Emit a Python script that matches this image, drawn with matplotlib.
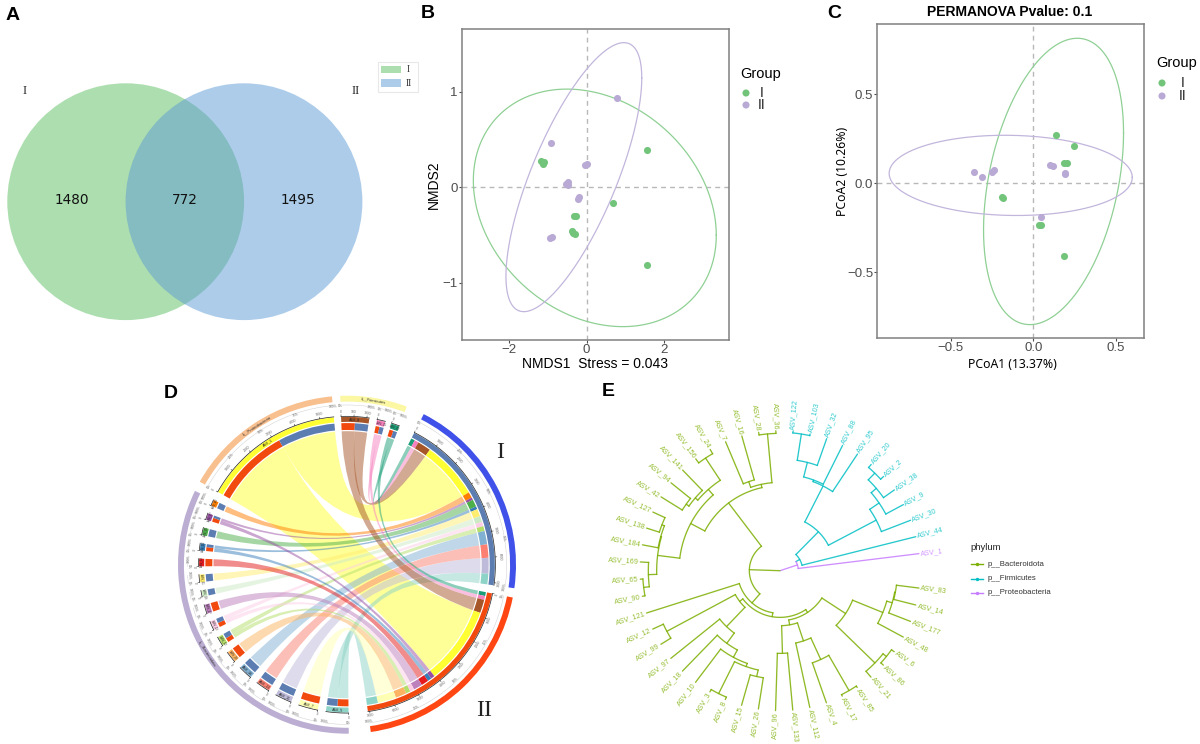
import numpy as np
import matplotlib
matplotlib.use('Agg')
import matplotlib.pyplot as plt
from matplotlib.patches import Circle, Wedge, PathPatch, Rectangle
from matplotlib.path import Path

W, H = 1200, 744

# --- A: venn
venn_counts = [1480, 772, 1495]
venn_groups = ['I', 'II']

# --- B: NMDS
nmds_green_x = [-1.17, -1.10, -1.13, 1.55, 0.67, -0.32, -0.28, -0.38, -0.35, -0.30, 1.55]
nmds_green_y = [0.28, 0.27, 0.25, 0.39, -0.16, -0.30, -0.30, -0.46, -0.48, -0.49, -0.81]
nmds_purple_x = [0.79, -0.92, -0.05, 0.00, -0.52, -0.47, -0.47, -0.20, -0.23, -0.95, -0.90]
nmds_purple_y = [0.94, 0.47, 0.23, 0.24, 0.04, 0.06, 0.03, -0.10, -0.12, -0.53, -0.52]
# cx, cy, rx, ry, rho
nmds_green_ell = [0.21, -0.215, 3.13, 1.245, -0.23]
nmds_purple_ell = [-0.33, 0.107, 1.75, 1.41, 0.737]

# --- C: PCoA
pcoa_green_x = [0.138, 0.247, 0.188, 0.202, -0.188, -0.182, 0.036, 0.047, 0.188]
pcoa_green_y = [0.269, 0.206, 0.112, 0.112, -0.079, -0.081, -0.237, -0.235, -0.407]
pcoa_purple_x = [-0.358, -0.314, -0.251, -0.239, 0.101, 0.117, 0.192, 0.192, 0.045]
pcoa_purple_y = [0.062, 0.034, 0.065, 0.075, 0.101, 0.097, 0.056, 0.049, -0.187]
pcoa_green_ell = [0.123, 0.01, 0.425, 0.803, 0.339]
pcoa_purple_ell = [-0.137, 0.044, 0.738, 0.225, -0.05]

# --- D: chord diagram, clockwise from the top
firm_names = ['ASV_8', 'ASV_25', 'ASV_39']
firm_I = [550, 170, 160]
firm_II = [550, 160, 160]
firm_cols = ['#a65628', '#f781bf', '#1b9e77']
leaf_names = ['ASV_5', 'ASV_7', 'ASV_11', 'ASV_13', 'ASV_16', 'ASV_19', 'ASV_22', 'ASV_23',
              'ASV_27', 'ASV_29', 'ASV_31', 'ASV_33', 'ASV_34', 'ASV_35', 'ASV_37', 'ASV_40']
leaf_I = [430, 0, 650, 550, 550, 0, 200, 180, 0, 250, 300, 0, 120, 300, 100, 240]
leaf_II = [450, 760, 0, 0, 0, 450, 180, 180, 360, 0, 0, 300, 160, 0, 160, 0]
leaf_cols = ['#8dd3c7', '#ffffb3', '#bebada', '#fb8072', '#80b1d3', '#fdb462', '#b3de69', '#fccde5',
             '#bc80bd', '#ccebc5', '#ffed6f', '#e41a1c', '#377eb8', '#4daf4a', '#984ea3', '#ff7f00']
top_name = 'ASV_1'
top_I = 2350
top_II = 3200
top_col = '#ffff33'

# --- E: tree, nodes are (radius, child, child), counter clockwise
cl_proteo = (55, 'ASV_1',
             (68, 'ASV_44',
              (164,
               (326, 'ASV_30', (360, 'ASV_9', (380, 'ASV_38', (408, 'ASV_2', 'ASV_20')))),
               (285, 'ASV_95', (290, 'ASV_88', (335, 'ASV_32', (415, 'ASV_103', 'ASV_122')))))))
cl_top = (255,
          (265, (412, 'ASV_36', 'ASV_28'), (283, 'ASV_16', 'ASV_7')),
          (303,
           (325, (405, 'ASV_24', 'ASV_156'), (335, 'ASV_141', (345, 'ASV_94', 'ASV_42'))),
           (370, (372, (380, 'ASV_127', 'ASV_138'), 'ASV_184'),
            (395, 'ASV_169', (412, 'ASV_65', 'ASV_90')))))
cl_w = (152, (385, 'ASV_12', 'ASV_99'),
        (232, 'ASV_97',
         (270, 'ASV_18',
          (295, 'ASV_10',
           (305, (412, 'ASV_3', 'ASV_8'), (325, 'ASV_15', 'ASV_26'))))))
cl_y = (150,
        (165, (248, 'ASV_96', 'ASV_133'),
         (222, 'ASV_112', (293, 'ASV_4', (415, 'ASV_17', 'ASV_85')))),
        (235, (397, 'ASV_21', (410, 'ASV_86', 'ASV_6')),
         (333, 'ASV_48', (350, 'ASV_177', (352, 'ASV_14', 'ASV_83')))))
cl_bact = (92, cl_top, (128, 'ASV_121', (140, cl_w, cl_y)))
phylum_names = ['p__Bacteroidota', 'p__Firmicutes', 'p__Proteobacteria']
phylum_cols = ['#7CAE00', '#00BFC4', '#C77CFF']

plt.rcParams['font.family'] = ['Liberation Sans', 'DejaVu Sans']
plt.rcParams['axes.unicode_minus'] = True

GREEN = '#72c47a'
PURPLE = '#b9a9d5'
ELL_G = '#8fd094'
ELL_P = '#c2b6dc'


def px_axes(fig, x0, y0, x1, y1, **kw):
    return fig.add_axes([x0 / W, 1 - y1 / H, (x1 - x0) / W, (y1 - y0) / H], **kw)


def ellipse_xy(par):
    cx, cy, rx, ry, rho = par
    t = np.linspace(0, 2 * np.pi, 300)
    return cx + rx * np.cos(t), cy + ry * np.cos(t - np.arccos(rho))


def ordination(ax, gx, gy, px, py, ell_g, ell_p, xticks, yticks, xfmt, yfmt):
    ax.axhline(0, color='#b8b8b8', lw=1, ls=(0, (3.5, 3)), zorder=1)
    ax.axvline(0, color='#b8b8b8', lw=1, ls=(0, (3.5, 3)), zorder=1)
    ax.plot(*ellipse_xy(ell_g), color=ELL_G, lw=0.9, zorder=2)
    ax.plot(*ellipse_xy(ell_p), color=ELL_P, lw=0.9, zorder=2)
    ax.scatter(gx, gy, s=26, color=GREEN, lw=0, zorder=3)
    ax.scatter(px, py, s=26, color=PURPLE, lw=0, zorder=3)
    ax.set_xticks(xticks, [xfmt(v) for v in xticks])
    ax.set_yticks(yticks, [yfmt(v) for v in yticks])
    ax.tick_params(colors='#4d4d4d', labelsize=9.5, length=2, width=0.8, pad=1)
    for s in ax.spines.values():
        s.set_color('#808080')
        s.set_linewidth(1.1)


def group_legend(ov, x, ytitle, y1, y2, xt):
    ov.text(x - 6, ytitle, 'Group', fontsize=10.5, va='center', ha='left')
    ov.scatter([x, x], [y1, y2], s=26, color=[GREEN, PURPLE], lw=0)
    ov.text(xt, y1, 'I', fontsize=10, va='center', ha='center', color='#222222')
    ov.text(xt, y2, 'II', fontsize=10, va='center', ha='center', color='#222222')


# --- chord helpers
def pol(r, deg):
    a = np.radians(deg)
    return r * np.sin(a), r * np.cos(a)


def ring(ax, r0, r1, a0, a1, col, **kw):
    ax.add_patch(Wedge((0, 0), r1, 90 - a1, 90 - a0, width=r1 - r0, facecolor=col, lw=0, **kw))


def tang_rot(deg):
    d = deg % 360
    return 180 - d if 90 < d < 270 else -d


def ribbon(ax, a0, a1, b0, b1, col, r=0.79):
    verts, codes = [], []
    aa = np.linspace(a0, a1, 12)
    bb = np.linspace(b0, b1, 12)
    for i, d in enumerate(aa):
        verts.append(pol(r, d))
        codes.append(Path.MOVETO if i == 0 else Path.LINETO)
    verts += [(0, 0), pol(r, b0)]
    codes += [Path.CURVE3, Path.CURVE3]
    for d in bb[1:]:
        verts.append(pol(r, d))
        codes.append(Path.LINETO)
    verts += [(0, 0), pol(r, a0)]
    codes += [Path.CURVE3, Path.CURVE3]
    ax.add_patch(PathPatch(Path(verts, codes), facecolor=col, alpha=0.5, lw=0))


def sector_axis(ax, a0, a1, total, step, grey='#666666'):
    th = np.linspace(a0, a1, 80)
    ax.plot(*pol(0.878, th), color='#222222', lw=0.5)
    ax.plot(*pol(0.945, th), color='#d0d0d0', lw=0.35)
    for v in np.arange(0, total + 1, step):
        d = a0 + v / 100.0
        p0, p1 = pol(0.878, d), pol(0.888, d)
        ax.plot([p0[0], p1[0]], [p0[1], p1[1]], color='#222222', lw=0.35)
        x, y = pol(0.905, d)
        ax.text(x, y, str(int(v)), fontsize=2.4, color=grey, ha='center', va='center',
                rotation=tang_rot(d), rotation_mode='anchor')
    span = a1 - a0
    pcts = [0, 25, 50, 75, 100] if span > 20 else [0, 100]
    for p in pcts:
        d = a0 + span * p / 100.0
        x, y = pol(0.938, d)
        ax.text(x, y, f'{p}%', fontsize=2.4, color=grey, ha='center', va='center',
                rotation=tang_rot(d), rotation_mode='anchor')


def draw_chord(ax):
    blue, red = '#5b7db1', '#f2490f'
    names = firm_names + ['I', 'II'] + leaf_names + [top_name]
    p_I = list(firm_I) + list(leaf_I) + [top_I]
    p_II = list(firm_II) + list(leaf_II) + [top_II]
    p_cols = list(firm_cols) + list(leaf_cols) + [top_col]
    nf, nl = len(firm_names), len(leaf_names)
    sum_I, sum_II = sum(p_I), sum(p_II)
    part_tot = [a + b for a, b in zip(p_I, p_II)]
    fixed = [3.0, 2.5, 6.3, 3.2, 7.5]
    tail = [3.5, 2.8]
    used = (sum_I + sum_II + sum(part_tot)) / 100.0 + sum(fixed) + sum(tail)
    leaf_gap = (360 - used) / (nl - 1)
    gaps = fixed + [leaf_gap] * (nl - 1) + tail

    start = {}
    pos = -2.3
    totals = part_tot[:nf] + [sum_I, sum_II] + part_tot[nf:]
    for n, t, g in zip(names, totals, gaps):
        start[n] = (pos, pos + t / 100.0)
        pos += t / 100.0 + g

    # partners in the clockwise order used inside sectors I and II
    order = [2, 1, 0, nf + nl] + list(range(nf + nl - 1, nf - 1, -1))
    part_names = firm_names + leaf_names + [top_name]
    cur_I = start['I'][0]
    cur_II = start['II'][0]
    slots = {}
    for i in order:
        slots[i] = (cur_I, cur_I + p_I[i] / 100.0, cur_II, cur_II + p_II[i] / 100.0)
        cur_I += p_I[i] / 100.0
        cur_II += p_II[i] / 100.0

    # chords: big one first, small firmicutes on top
    draw_order = [nf + nl] + list(range(nf, nf + nl)) + list(range(nf))
    for i in draw_order:
        a0 = start[part_names[i]][0]
        mid = a0 + p_II[i] / 100.0
        end = mid + p_I[i] / 100.0
        i0, i1, j0, j1 = slots[i]
        if p_II[i] > 0:
            ribbon(ax, a0, mid, j0, j1, p_cols[i])
        if p_I[i] > 0:
            ribbon(ax, mid, end, i0, i1, p_cols[i])

    # inner stacks and rings
    for i, n in enumerate(part_names):
        a0, a1 = start[n]
        mid = a0 + p_II[i] / 100.0
        if p_II[i] > 0:
            ring(ax, 0.797, 0.838, a0, mid, red)
        if p_I[i] > 0:
            ring(ax, 0.797, 0.838, mid, a1, blue)
        ring(ax, 0.845, 0.875, a0, a1, p_cols[i])
        big = n == top_name
        if big:
            step = 1000
        elif part_tot[i] > 900:
            step = 500
        else:
            step = 100000
        sector_axis(ax, a0, a1, part_tot[i], step)
        d = (a0 + a1) / 2
        x, y = pol(0.86, d)
        ax.text(x, y, n, fontsize=2.6 if big or part_tot[i] > 500 else 1.9, color='#222222', ha='center', va='center',
                rotation=tang_rot(d), rotation_mode='anchor')
    for n, col in (('I', blue), ('II', red)):
        a0, a1 = start[n]
        ring(ax, 0.845, 0.875, a0, a1, col)
        sector_axis(ax, a0, a1, a1 * 100 - a0 * 100, 1000)
    for i in order:
        i0, i1, j0, j1 = slots[i]
        if p_I[i] > 0:
            ring(ax, 0.797, 0.838, i0, i1, p_cols[i])
        if p_II[i] > 0:
            ring(ax, 0.797, 0.838, j0, j1, p_cols[i])

    # outer group arcs
    groups = [(start[firm_names[0]][0], start[firm_names[-1]][1], '#fbf7a2', 'k__Firmicutes'),
              (*start['I'], '#3f51e8', None),
              (*start['II'], '#ff4613', None),
              (start[leaf_names[0]][0], start[leaf_names[-1]][1], '#bcaed3', 'k__Bacteroidota'),
              (*start[top_name], '#f9c08f', 'k__Proteobacteria')]
    for a0, a1, col, lab in groups:
        ring(ax, 0.965, 1.0, a0, a1, col)
        if lab:
            d = (a0 + a1) / 2
            x, y = pol(0.982, d)
            ax.text(x, y, lab, fontsize=3, color='#333333', ha='center', va='center',
                    rotation=tang_rot(d), rotation_mode='anchor')


# --- tree helpers
def leaves_of(node):
    if isinstance(node, str):
        return [node]
    return leaves_of(node[1]) + leaves_of(node[2])


def draw_tree(ax):
    order = leaves_of(cl_proteo) + leaves_of(cl_bact)
    step = 360 / 51.0
    angle = {name: 7 + step * k for k, name in enumerate(order)}
    tip_r = 420

    def xy(r, deg):
        a = np.radians(deg)
        return r * np.cos(a), r * np.sin(a)

    def colour_of(node):
        names = leaves_of(node)
        if names[0] in leaves_of(cl_bact):
            return phylum_cols[0]
        if 'ASV_1' in names:
            return phylum_cols[2]
        return phylum_cols[1]

    def walk(node, parent_r):
        col = colour_of(node)
        if isinstance(node, str):
            th = angle[node]
            p0, p1 = xy(parent_r, th), xy(tip_r, th)
            ax.plot([p0[0], p1[0]], [p0[1], p1[1]], color=col, lw=0.95, alpha=0.85, solid_capstyle='round')
            x, y = xy(tip_r + 5, th)
            flip = 90 < th < 270
            ax.text(x, y, node, fontsize=5.2, color=col, alpha=0.8,
                    rotation=th - 180 if flip else th, rotation_mode='anchor',
                    ha='right' if flip else 'left', va='center')
            return th
        r = node[0]
        a1 = walk(node[1], r)
        a2 = walk(node[2], r)
        th = (a1 + a2) / 2
        t = np.linspace(a1, a2, 60)
        ax.plot(*xy(r, t), color=col, lw=0.95, alpha=0.85)
        p0, p1 = xy(parent_r, th), xy(r, th)
        ax.plot([p0[0], p1[0]], [p0[1], p1[1]], color=col, lw=0.95, alpha=0.85, solid_capstyle='round')
        return th

    walk(cl_proteo, 0)
    walk(cl_bact, 0)


fig = plt.figure(figsize=(W / 100, H / 100), dpi=100)

# overlay in pixel coordinates, for panel A and the free text
ov = px_axes(fig, 0, 0, W, H)
ov.set_xlim(0, W)
ov.set_ylim(H, 0)
ov.axis('off')

# panel A
ov.add_patch(Circle((125.7, 201.7), 118.4, facecolor='#5cbf60', alpha=0.5, lw=0))
ov.add_patch(Circle((244, 201.7), 118.4, facecolor='#5c9bd5', alpha=0.5, lw=0))
for x, v in zip([72, 185, 298], venn_counts):
    ov.text(x, 200.5, str(v), fontsize=9.8, family='DejaVu Sans', ha='center', va='center', color='#111111')
ov.text(25, 91, venn_groups[0], fontsize=9, family='Liberation Serif', ha='center', va='center', color='#222222')
ov.text(356, 91, venn_groups[1], fontsize=9, family='Liberation Serif', ha='center', va='center', color='#222222')
ov.add_patch(Rectangle((378, 62), 40, 30, facecolor='white', edgecolor='#e8e8e8', lw=0.8))
ov.add_patch(Rectangle((381, 65.5), 20, 7.5, facecolor='#5cbf60', alpha=0.5, lw=0))
ov.add_patch(Rectangle((381, 79), 20, 7.5, facecolor='#5c9bd5', alpha=0.5, lw=0))
ov.text(408.5, 69, venn_groups[0], fontsize=7, family='Liberation Serif', ha='center', va='center', color='#333333')
ov.text(408.5, 83, venn_groups[1], fontsize=7, family='Liberation Serif', ha='center', va='center', color='#333333')

# panel B
ax_b = px_axes(fig, 461.7, 29, 728.7, 340)
ax_b.set_xlim(-3.22, 3.66)
ax_b.set_ylim(-1.60, 1.66)
ordination(ax_b, nmds_green_x, nmds_green_y, nmds_purple_x, nmds_purple_y, nmds_green_ell, nmds_purple_ell,
           [-2, 0, 2], [-1, 0, 1], lambda v: f'{v:d}'.replace('-', '\u2212'), lambda v: f'{v:d}'.replace('-', '\u2212'))
ov.text(595, 364, 'NMDS1  Stress = 0.043', fontsize=10, ha='center', va='center')
ov.text(434, 185, 'NMDS2', fontsize=10, rotation=90, ha='center', va='center')
group_legend(ov, 746, 74, 93, 105, 762)

# panel C
ax_c = px_axes(fig, 877.3, 24, 1144.3, 338)
ax_c.set_xlim(-0.947, 0.674)
ax_c.set_ylim(-0.868, 0.893)
fmt = lambda v: f'{v:.1f}'.replace('-', '\u2212')
ordination(ax_c, pcoa_green_x, pcoa_green_y, pcoa_purple_x, pcoa_purple_y, pcoa_green_ell, pcoa_purple_ell,
           [-0.5, 0.0, 0.5], [-0.5, 0.0, 0.5], fmt, fmt)
ov.text(1010, 12, 'PERMANOVA Pvalue: 0.1', fontsize=10, fontweight='bold', ha='center', va='center')
ov.text(1012, 364, 'PCoA1 (13.37%)', fontsize=8.8, family='Noto Sans', ha='center', va='center')
ov.text(842, 171, 'PCoA2 (10.26%)', fontsize=8.8, family='Noto Sans', rotation=90, ha='center', va='center')
group_legend(ov, 1162, 63, 83, 96, 1183)

# panel D
Rd = 169 * 1.01
ax_d = px_axes(fig, 347 - Rd, 564.7 - Rd, 347 + Rd, 564.7 + Rd)
ax_d.set_xlim(-1.01, 1.01)
ax_d.set_ylim(-1.01, 1.01)
ax_d.axis('off')
draw_chord(ax_d)
ov.text(500, 453, 'I', fontsize=17, family='Liberation Serif', ha='center', va='center', color='#222222')
ov.text(484, 711, 'II', fontsize=17, family='Liberation Serif', ha='center', va='center', color='#222222')

# panel E
Re = 520 / 3.0
ax_e = px_axes(fig, 780 - Re, 570.7 - Re, 780 + Re, 570.7 + Re)
ax_e.set_xlim(-520, 520)
ax_e.set_ylim(-520, 520)
ax_e.axis('off')
draw_tree(ax_e)

ov.text(970, 548, 'phylum', fontsize=6.8, ha='left', va='center', color='#222222')
for y, n, c in zip([564, 578.5, 593], phylum_names, phylum_cols):
    ov.plot([971, 983], [y, y], color=c, lw=1)
    ov.scatter([977], [y], s=6, color=c, lw=0)
    ov.text(988, y, n, fontsize=5.6, ha='left', va='center', color='#333333')

# panel letters
for x, y, s in [(13, 15, 'A'), (428, 13, 'B'), (834, 14, 'C'), (171, 393, 'D'), (608, 392, 'E')]:
    ov.text(x, y, s, fontsize=14, fontweight='bold', ha='center', va='center')

ov.set_zorder(5)
ov.patch.set_alpha(0)
fig.savefig('out.png', dpi=100, facecolor='white')
